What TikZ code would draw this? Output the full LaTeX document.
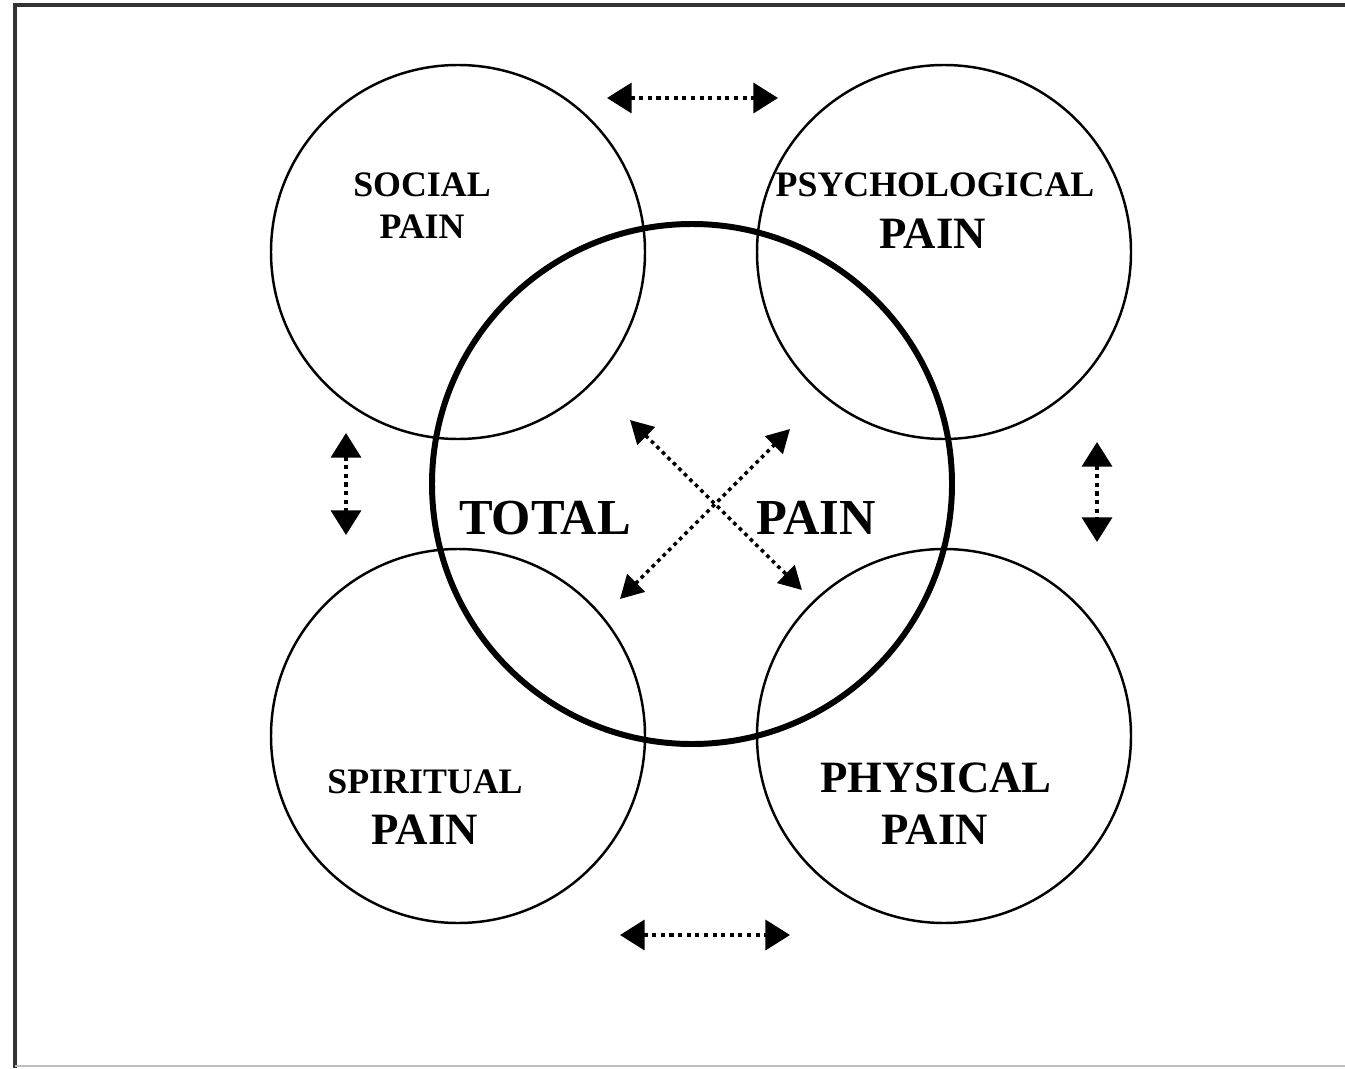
\documentclass[tikz,border=0pt]{standalone}
\usepackage{fontspec}
\setmainfont{Liberation Serif}
\usetikzlibrary{arrows.meta}
\begin{document}
\begin{tikzpicture}[x=0.02cm,y=-0.02cm,
  pcircle/.style={circle,draw,line width=1.4pt,inner sep=0pt,minimum size=374*0.02cm},
  tcircle/.style={circle,draw,line width=3.4pt,inner sep=0pt,minimum size=520*0.02cm},
  small/.style={font=\bfseries\fontsize{20.4}{22}\selectfont,inner sep=0pt},
  big/.style={font=\bfseries\fontsize{25.5}{27}\selectfont,inner sep=0pt},
  huge/.style={font=\bfseries\fontsize{28.7}{30}\selectfont,inner sep=0pt},
  darrow/.style={line width=2.2pt,dash pattern=on 2.3pt off 2.6pt,
    {Triangle[length=14pt,width=17pt]}-{Triangle[length=14pt,width=17pt]}},
  xarrow/.style={line width=2pt,dash pattern=on 2.1pt off 2.3pt,
    {Triangle[length=13pt,width=14pt]}-{Triangle[length=13pt,width=14pt]}}
]
\useasboundingbox (0,0) rectangle (1345,1068);
\draw[line width=2.2pt,black!80] (15,1068) -- (15,5) -- (1345,5);
\draw[line width=1pt,black!25] (15,1066) -- (1345,1066);

\node[pcircle] (social) at (458,252) {};
\node[pcircle] (psych) at (944,252) {};
\node[pcircle] (spirit) at (458,736) {};
\node[pcircle] (phys) at (944,736) {};
\node[tcircle] (total) at (692,484) {};

\node[small] (t1) at (422,185) {SOCIAL};
\node[small] (t2) at (422,227) {PAIN};
\node[small] (t3) at (935,185) {PSYCHOLOGICAL};
\node[big] (t4) at (933,234) {PAIN};
\node[small] (t5) at (425,782) {SPIRITUAL};
\node[big] (t6) at (425,830) {PAIN};
\node[big] (t7) at (936,778) {PHYSICAL};
\node[big] (t8) at (935,830) {PAIN};
\node[huge] (t9) at (545,518) {TOTAL};
\node[huge] (t10) at (816,518) {PAIN};

\coordinate (a1) at (607,98);
\coordinate (a2) at (778,98);
\coordinate (b1) at (620,935);
\coordinate (b2) at (790,935);
\coordinate (c1) at (346,433);
\coordinate (c2) at (346,535);
\coordinate (d1) at (1097,442);
\coordinate (d2) at (1097,542);
\coordinate (e1) at (630,420);
\coordinate (e2) at (802,590);
\coordinate (f1) at (620,599);
\coordinate (f2) at (790,429);

\draw[darrow] (a1) -- (a2);
\draw[darrow] (b1) -- (b2);
\draw[darrow] (c1) -- (c2);
\draw[darrow] (d1) -- (d2);
\draw[xarrow] (e1) -- (e2);
\draw[xarrow] (f1) -- (f2);
\end{tikzpicture}
\end{document}
